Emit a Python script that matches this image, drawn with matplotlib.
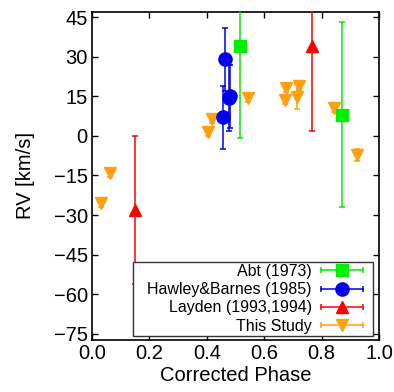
import matplotlib
matplotlib.use("Agg")
import matplotlib.pyplot as plt
from matplotlib.lines import Line2D
from matplotlib.legend_handler import HandlerLine2D, HandlerTuple
from matplotlib.offsetbox import DrawingArea, HPacker

plt.rcParams['font.family'] = ['Liberation Sans', 'DejaVu Sans']

# Abt (1973)
abt_phase = [0.514, 0.870]
abt_rv = [34.0, 8.0]
abt_err = [35.0, 35.0]

# Hawley & Barnes (1985)
hb_phase = [0.456, 0.462, 0.476, 0.482]
hb_rv = [7.0, 29.0, 14.5, 15.0]
hb_err = [12.0, 12.0, 12.5, 12.0]

# Layden (1993, 1994)
lay_phase = [0.150, 0.768]
lay_rv = [-28.0, 34.0]
lay_err = [28.0, 32.0]

# This Study
ts_phase = [0.030, 0.063, 0.404, 0.418, 0.543, 0.671, 0.675, 0.713, 0.721, 0.844, 0.923]
ts_rv = [-25.3, -14.1, 1.3, 6.4, 14.3, 13.6, 18.0, 14.9, 18.7, 10.5, -7.2]
ts_err = [1.5, 1.5, 1.5, 1.5, 1.5, 1.5, 1.5, 4.7, 1.5, 1.5, 2.3]

series = [
    ('Abt (1973)', abt_phase, abt_rv, abt_err, '#00ee00', 's', 8.5, 3),
    ('Hawley&Barnes (1985)', hb_phase, hb_rv, hb_err, '#0000ee', 'o', 9.5, 4),
    ('Layden (1993,1994)', lay_phase, lay_rv, lay_err, '#ff0000', '^', 9, 3),
    ('This Study', ts_phase, ts_rv, ts_err, '#ffa010', 'v', 9, 2),
]

fig = plt.figure(figsize=(3.94, 3.92), dpi=100)
ax = fig.add_axes([0.2335, 0.1327, 0.7285, 0.8367])

handles = []
hmap = {}
for label, xs, ys, es, col, mk, ms, z in series:
    ax.errorbar(xs, ys, yerr=es, fmt=mk, color=col, ms=ms, mec=col,
                ecolor=col, elinewidth=1.1, capsize=2.5, capthick=1.1,
                zorder=z)
    main = Line2D([], [], color=col, lw=1.1, marker=mk, ms=ms, mec=col)
    caps = Line2D([], [], color=col, ls='none', marker='|', ms=5, mew=1.1)
    hmap[caps] = HandlerLine2D(numpoints=2, marker_pad=0)
    handles.append((main, caps))
hmap[tuple] = HandlerTuple(ndivide=1, pad=0)

ax.set_xlim(0, 1)
ax.set_ylim(-77.3, 46.9)
ax.set_xticks([0.0, 0.2, 0.4, 0.6, 0.8, 1.0])
ax.set_xticklabels(['0.0', '0.2', '0.4', '0.6', '0.8', '1.0'])
ax.set_yticks(range(-75, 46, 15))
ax.tick_params(direction='in', top=True, right=True, length=4, width=1,
               labelsize=14.5, pad=3)
for sp in ax.spines.values():
    sp.set_linewidth(1.2)

ax.set_xlabel('Corrected Phase', fontsize=14.5)
ax.set_ylabel('RV [km/s]', fontsize=14.5)
ax.yaxis.set_label_coords(-0.20, 0.5)
ax.xaxis.set_label_coords(0.5, -0.08)

leg = ax.legend(handles, [s[0] for s in series], handler_map=hmap,
                loc='lower left', bbox_to_anchor=(0.143, 0.012, 0.836, 0.226),
                mode='expand', markerfirst=False, fontsize=11.5,
                handlelength=2.6, handletextpad=0.6, labelspacing=0.2,
                borderpad=0.15, borderaxespad=0, fancybox=False,
                frameon=True, framealpha=1)
# push the entries against the right side of the box, like gnuplot does
box = leg._legend_handle_box
column = box._children[0]
box._children[:] = [DrawingArea(0, 0),
                    HPacker(pad=0, sep=0, children=[column, DrawingArea(5.5, 0)])]
leg.get_frame().set_edgecolor('#333333')
leg.get_frame().set_linewidth(1.0)
leg.set_zorder(10)

fig.savefig('out.png', dpi=100)
